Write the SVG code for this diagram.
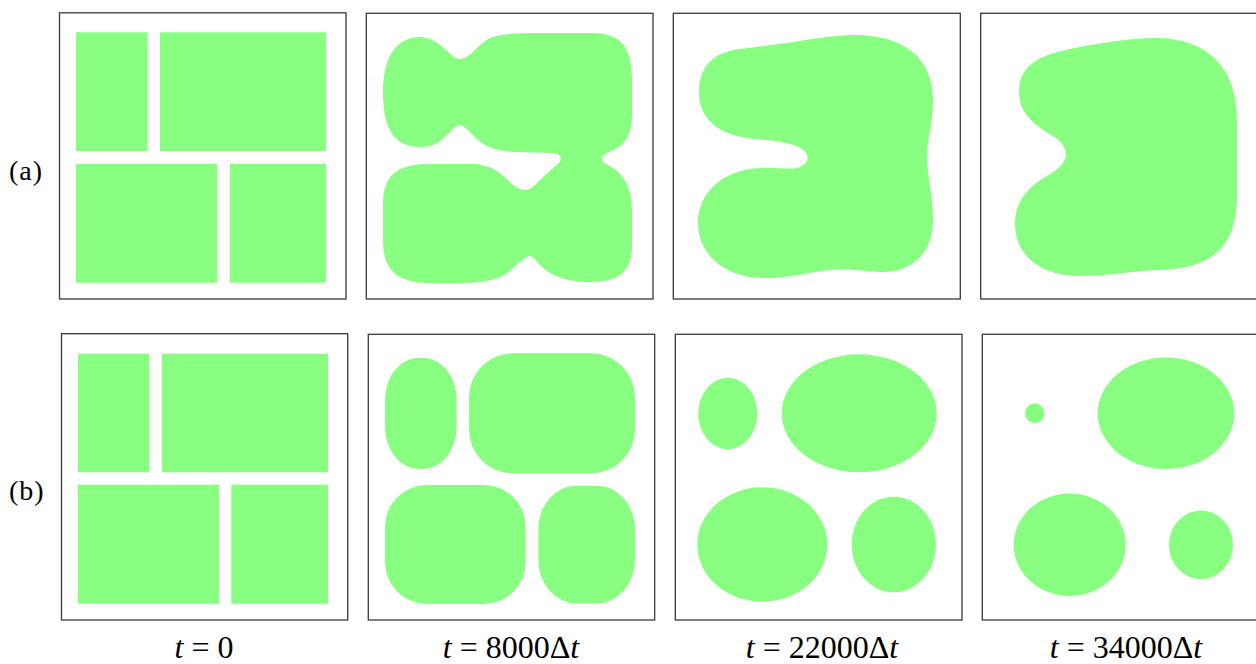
<svg xmlns="http://www.w3.org/2000/svg" width="1256" height="664" viewBox="0 0 1256 664">
<style>
.frame{fill:#ffffff;stroke:#3a3a3a;stroke-width:1.3}
.g{fill:#88ff80;stroke:none}
.lbl{font-family:"Liberation Serif","Times New Roman",serif;font-size:28px;fill:#000;letter-spacing:1px}
.cap{font-family:"Liberation Serif","Times New Roman",serif;font-size:32px;fill:#000;text-anchor:middle}
.it{font-style:italic}
</style>
<rect width="1256" height="664" fill="#ffffff"/>
<g id="label-a"><text class="lbl" x="9" y="180">(a)</text></g>
<g id="label-b"><text class="lbl" x="9" y="500">(b)</text></g>

<g id="a1">
<rect class="frame" x="59.5" y="12.8" width="286.5" height="286.2"/>
<rect class="g" x="76" y="32.3" width="71.7" height="118.7"/>
<rect class="g" x="160" y="32.3" width="166" height="118.7"/>
<rect class="g" x="76" y="163.7" width="141.3" height="119"/>
<rect class="g" x="230" y="163.7" width="96" height="119"/>
</g>

<g id="a2">
<rect class="frame" x="366.3" y="13.3" width="286.7" height="285.7"/>
<path class="g" d="M 383,92 C 383,55 398,37 420,37 C 440,37 450,59 460,59 C 470,59 478,44 490,38 C 500,34 515,33 540,33 L 590,33 C 620,33 632,45 632,80 L 632,115 C 632,140 620,148 609,152 C 600,156 600,161 608,165 C 622,172 632,185 632,210 L 632,245 C 632,275 615,282 590,282 C 565,282 550,275 540,265 C 535,259 532,256 530,256 C 526,256 520,262 513,268 C 505,276 495,283 460,283 L 430,283 C 395,283 383,268 383,240 L 383,205 C 383,175 397,164 430,164 L 470,164 C 490,164 500,172 510,182 C 520,192 528,192 535,185 C 545,175 555,166 559,163 C 563,158 561,154 552,153 L 515,152 C 490,151 480,143 470,132 C 465,127 462,125 460,125 C 456,125 452,130 445,137 C 438,144 430,147 420,147 C 395,147 383,130 383,92 Z"/>
</g>

<g id="a3">
<rect class="frame" x="673.3" y="13.3" width="287" height="285.7"/>
<path class="g" d="M 699,92 C 699,65 715,52 740,49 C 765,46 780,44 800,41 C 825,37 840,35 855,35 C 900,35 933,55 933,100 C 933,125 927,140 927,155 C 927,175 933,195 933,220 C 933,255 910,273 880,272 C 860,271 845,268 830,270 C 810,272 790,278 765,278 C 725,278 698,255 698,222 C 698,195 720,170 760,168 C 775,167 787,170 797,168 C 806,166 810,159 806,153 C 800,144 780,141 755,139 C 720,136 699,120 699,92 Z"/>
</g>

<g id="a4">
<rect class="frame" x="980.7" y="13.3" width="290" height="285.7"/>
<path class="g" d="M 1019,92 C 1019,65 1040,55 1070,49 C 1100,43 1130,38 1155,38 C 1210,38 1237,70 1237,120 L 1237,195 C 1237,245 1215,268 1160,270 C 1130,271 1110,276 1080,276 C 1040,276 1015,255 1015,223 C 1015,200 1030,185 1050,174 C 1062,167 1066,160 1066,154 C 1066,146 1060,140 1048,133 C 1030,122 1019,110 1019,92 Z"/>
</g>

<g id="b1">
<rect class="frame" x="61.5" y="333.7" width="286.2" height="286.3"/>
<rect class="g" x="78" y="353.7" width="71.3" height="118.6"/>
<rect class="g" x="162" y="353.7" width="166" height="118.6"/>
<rect class="g" x="78" y="484.7" width="141" height="119"/>
<rect class="g" x="231.3" y="484.7" width="96.7" height="119"/>
</g>

<g id="b2">
<rect class="frame" x="368.3" y="334.3" width="286.4" height="285.7"/>
<rect class="g" x="385" y="357.7" width="71.7" height="111.3" rx="34" ry="42"/>
<rect class="g" x="469" y="353.3" width="166" height="120" rx="44" ry="44"/>
<rect class="g" x="385" y="485" width="140.7" height="119" rx="42" ry="42"/>
<rect class="g" x="538.3" y="485.7" width="96.7" height="117.6" rx="38" ry="44"/>
</g>

<g id="b3">
<rect class="frame" x="675.3" y="334.3" width="286.7" height="285.7"/>
<ellipse class="g" cx="727.8" cy="413.5" rx="29.5" ry="35.8"/>
<ellipse class="g" cx="859.2" cy="413.3" rx="77.5" ry="59"/>
<ellipse class="g" cx="762.3" cy="544.5" rx="65" ry="57.2"/>
<ellipse class="g" cx="893.8" cy="544.5" rx="42.2" ry="47.8"/>
</g>

<g id="b4">
<rect class="frame" x="982.3" y="334.3" width="290" height="285.7"/>
<ellipse class="g" cx="1034.7" cy="413.3" rx="9.7" ry="10"/>
<ellipse class="g" cx="1166" cy="413.3" rx="68.3" ry="55.7"/>
<ellipse class="g" cx="1069.7" cy="544.8" rx="56" ry="51.2"/>
<ellipse class="g" cx="1201" cy="544.8" rx="32" ry="34.2"/>
</g>

<g id="captions">
<text class="cap" x="204" y="658"><tspan class="it">t</tspan> = 0</text>
<text class="cap" x="511" y="658"><tspan class="it">t</tspan> = 8000Δ<tspan class="it">t</tspan></text>
<text class="cap" x="822" y="658"><tspan class="it">t</tspan> = 22000Δ<tspan class="it">t</tspan></text>
<text class="cap" x="1126" y="658"><tspan class="it">t</tspan> = 34000Δ<tspan class="it">t</tspan></text>
</g>
</svg>
